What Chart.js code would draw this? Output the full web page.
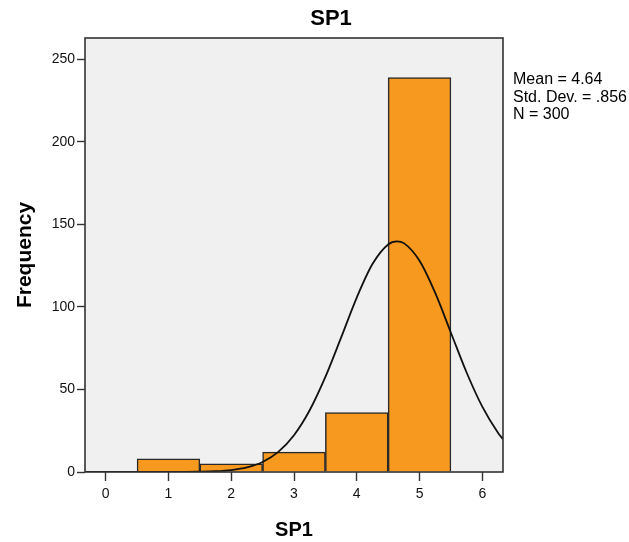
<!DOCTYPE html>
<html>
<head>
<meta charset="utf-8">
<script src="https://cdn.jsdelivr.net/npm/chart.js@4.4.1/dist/chart.umd.min.js"></script>
<style>
  body { margin: 0; background: #fff; }
  #wrap { width: 629px; height: 542px; }
</style>
</head>
<body>
<div id="wrap"><canvas id="histChart"></canvas></div>
<script>
  // histogram bins (SP1 score) and counts
  const binCenters = [1, 2, 3, 4, 5];
  const counts = [8, 5, 12, 36, 239];

  // normal curve
  const curveX = [-0.33, 0, 0.5, 1, 1.25, 1.5, 1.75, 2, 2.25, 2.5, 2.75, 3, 3.25, 3.5, 3.75, 4, 4.25, 4.5, 4.64, 4.75, 5, 5.25, 5.5, 5.75, 6, 6.25, 6.33];
  const curveY = [0, 0, 0, 0, 0.05, 0.17, 0.47, 1.2, 2.8, 6.1, 12.2, 22.3, 37.4, 57.6, 81.4, 105.7, 126.0, 137.9, 139.8, 138.7, 128.0, 108.5, 84.4, 60.3, 39.6, 23.8, 19.9];

  const xTicks = [0, 1, 2, 3, 4, 5, 6];
  const yTicks = [0, 50, 100, 150, 200, 250];
  const chartTitle = 'SP1';
  const statsLines = ['Mean = 4.64', 'Std. Dev. = .856', 'N = 300'];

  const fontFamily = '"Liberation Sans", Arial, sans-serif';

  // grey plot area, frame, title and the stats text
  const framePlugin = {
    id: 'frame',
    beforeDraw(chart) {
      const { ctx, chartArea: a } = chart;
      ctx.save();
      ctx.fillStyle = '#ffffff';
      ctx.fillRect(0, 0, chart.width, chart.height);
      ctx.fillStyle = '#f0f0f0';
      ctx.fillRect(a.left, a.top, a.right - a.left, a.bottom - a.top);
      ctx.restore();
    },
    afterDatasetsDraw(chart) {
      const { ctx, chartArea: a } = chart;
      ctx.save();
      ctx.strokeStyle = '#333333';
      ctx.lineWidth = 1.6;
      ctx.strokeRect(a.left, a.top, a.right - a.left, a.bottom - a.top);
      ctx.restore();
    },
    afterDraw(chart) {
      const { ctx, chartArea: a } = chart;
      ctx.save();
      ctx.fillStyle = '#000';
      ctx.textBaseline = 'middle';
      ctx.textAlign = 'center';
      ctx.font = 'bold 22px ' + fontFamily;
      ctx.fillText(chartTitle, 331, 19);
      ctx.font = '16px ' + fontFamily;
      ctx.textAlign = 'left';
      statsLines.forEach((t, i) => ctx.fillText(t, a.right + 10, 80 + i * 17.5));
      ctx.restore();
    }
  };

  const ctx = document.getElementById('histChart');
  const histChart = new Chart(ctx, {
    type: 'bar',
    data: {
      datasets: [{
        type: 'line',
        data: curveX.map((x, i) => ({ x: x, y: curveY[i] })),
        borderColor: '#111111',
        borderWidth: 1.8,
        pointRadius: 0,
        cubicInterpolationMode: 'monotone',
        fill: false,
        order: 0
      }, {
        type: 'bar',
        data: binCenters.map((x, i) => ({ x: x, y: counts[i] })),
        backgroundColor: '#f7981f',
        borderColor: '#2a2a2a',
        borderWidth: 1.5,
        barPercentage: 1,
        categoryPercentage: 1,
        grouped: false,
        order: 1
      }]
    },
    options: {
      responsive: true,
      maintainAspectRatio: false,
      animation: false,
      layout: { padding: { left: 0, right: 126, top: 38, bottom: 0 } },
      plugins: {
        legend: { display: false },
        tooltip: { enabled: false },
        title: { display: false }
      },
      scales: {
        x: {
          type: 'linear',
          min: -0.33,
          max: 6.33,
          offset: false,
          afterBuildTicks(scale) { scale.ticks = xTicks.map(v => ({ value: v })); },
          afterFit(scale) { scale.height = 70; },
          grid: { offset: false, drawOnChartArea: false, drawTicks: true, tickLength: 9, tickColor: '#333', tickWidth: 1.4 },
          border: { display: false },
          ticks: { color: '#111', padding: 5, font: { family: fontFamily, size: 14 }, maxRotation: 0 },
          title: {
            display: true,
            text: 'SP1',
            color: '#000',
            font: { family: fontFamily, size: 20, weight: 'bold', lineHeight: 1.2 },
            padding: { top: 0, bottom: 0 }
          }
        },
        y: {
          min: 0,
          max: 263,
          afterBuildTicks(scale) { scale.ticks = yTicks.map(v => ({ value: v })); },
          afterFit(scale) { scale.width = 85; },
          grid: { drawOnChartArea: false, drawTicks: true, tickLength: 8, tickColor: '#333', tickWidth: 1.4 },
          border: { display: false },
          ticks: { color: '#111', padding: 2, font: { family: fontFamily, size: 14 } },
          title: {
            display: true,
            text: 'Frequency',
            color: '#000',
            font: { family: fontFamily, size: 21, weight: 'bold', lineHeight: 1.2 },
            padding: { top: 13, bottom: 0 }
          }
        }
      }
    },
    plugins: [framePlugin]
  });
</script>
</body>
</html>
